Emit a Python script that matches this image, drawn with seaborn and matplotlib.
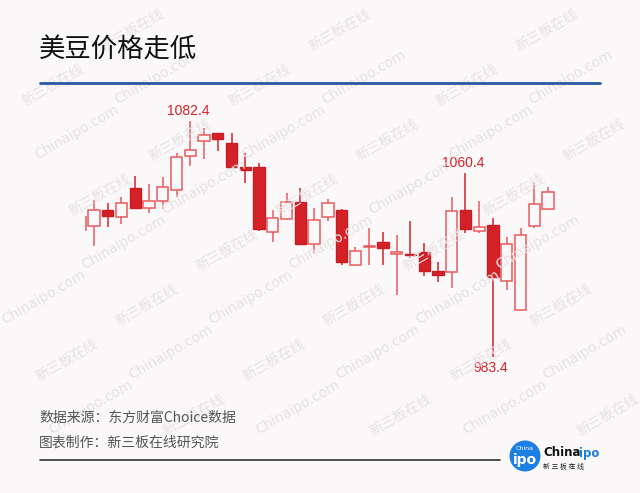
import matplotlib
matplotlib.use("Agg")
import matplotlib.pyplot as plt
from matplotlib.lines import Line2D
from matplotlib.patches import Ellipse
import seaborn as sns
import pandas as pd
import numpy as np

# Daily soybean futures quotes (open / high / low / close)
opens = [1036.6, 1038.4, 1044.9, 1042.1, 1054.0, 1045.9, 1048.8, 1053.3, 1067.6, 1074.0,
         1077.1, 1072.9, 1062.9, 1062.9, 1035.6, 1041.2, 1048.4, 1030.7, 1041.9, 1044.9,
         1021.9, 1029.3, 1031.6, 1026.4, 1026.6, 1027.2, 1019.4, 1019.1, 1044.9, 1036.1,
         1038.5, 1015.2, 1003.0, 1038.2, 1045.4]
highs = [1042.0, 1049.1, 1048.0, 1050.3, 1059.2, 1055.9, 1058.7, 1068.7, 1082.4, 1079.2,
         1077.1, 1077.1, 1069.0, 1064.8, 1044.9, 1051.9, 1054.0, 1045.9, 1049.4, 1045.2,
         1029.5, 1037.3, 1035.6, 1034.5, 1040.3, 1031.0, 1023.0, 1050.3, 1060.4, 1048.7,
         1041.5, 1033.7, 1037.3, 1056.4, 1054.5]
lows = [1036.6, 1030.0, 1037.9, 1039.1, 1045.9, 1043.6, 1045.5, 1050.3, 1063.4, 1066.2,
        1069.8, 1063.1, 1056.4, 1036.3, 1031.6, 1041.2, 1030.7, 1027.0, 1040.5, 1021.9,
        1021.9, 1021.9, 1021.9, 1009.3, 1024.7, 1017.3, 1014.9, 1012.1, 1035.2, 1035.4,
        983.4, 1011.4, 1003.0, 1037.3, 1045.4]
closes = [1042.0, 1044.9, 1042.6, 1048.0, 1045.9, 1048.8, 1054.7, 1067.3, 1070.1, 1076.4,
          1074.6, 1063.1, 1061.7, 1036.8, 1041.5, 1048.4, 1030.7, 1040.7, 1047.8, 1023.0,
          1027.7, 1029.8, 1028.9, 1027.5, 1026.1, 1019.5, 1017.7, 1044.5, 1036.8, 1037.7,
          1016.7, 1030.6, 1034.5, 1047.3, 1052.6]

title = "美豆价格走低"
source_line = "数据来源：东方财富Choice数据"
maker_line = "图表制作：新三板在线研究院"

BG = "#faf8f9"
RED_DARK = "#d42127"
RED_EDGE = "#c61e24"
RED_LIGHT = "#ea5a5e"

df = pd.DataFrame({"open": opens, "high": highs, "low": lows, "close": closes})
df["idx"] = np.arange(len(df))
df["up"] = df["close"] >= df["open"]
df["bottom"] = df[["open", "close"]].min(axis=1)
df["body"] = (df["close"] - df["open"]).abs().clip(lower=0.35)

sns.set_theme(style="white")
plt.rcParams["font.family"] = ["Noto Sans CJK SC", "DejaVu Sans"]

W, H = 640, 493
fig = plt.figure(figsize=(W / 100, H / 100), dpi=100)
fig.patch.set_facecolor(BG)


def fx(px):
    return px / W


def fy(py):
    return 1 - py / H


# background watermark
wm = dict(fontsize=10, color="#e7e3e5", rotation=30, ha="center", va="center",
          rotation_mode="anchor", zorder=0)
for m in range(-3, 6):
    for n in range(-6, 10):
        x = 53 + 207 * m + 80 * n
        y = 85 - 55 * n
        if 20 < x < 620 and 22 < y < 485:
            fig.text(fx(x), fy(y), "新三板在线", **wm)
        x2, y2 = x + 104, y - 8
        if 35 < x2 < 605 and 25 < y2 < 480:
            fig.text(fx(x2), fy(y2), "Chinaipo.com", family=["DejaVu Sans"], **wm)

# chart area
ax_l, ax_r, ax_t, ax_b = 85, 560, 100, 370
ax = fig.add_axes([fx(ax_l), fy(ax_b), (ax_r - ax_l) / W, (ax_b - ax_t) / H])
ax.set_facecolor("none")
step = 13.76
c0 = 80.2
ax.set_xlim((ax_l - c0) / step, (ax_r - c0) / step)
ax.set_ylim(977.8, 1091.1)
ax.set_axis_off()

up = df[df["up"]]
dn = df[~df["up"]]

ax.vlines(up["idx"], up["low"], up["high"], color=RED_LIGHT, lw=1.1, zorder=1)
ax.vlines(dn["idx"], dn["low"], dn["high"], color=RED_DARK, lw=1.1, zorder=1)
ax.bar(up["idx"], up["body"], bottom=up["bottom"], width=0.82,
       facecolor=BG, edgecolor=RED_LIGHT, linewidth=1.1, zorder=2)
ax.bar(dn["idx"], dn["body"], bottom=dn["bottom"], width=0.82,
       facecolor=RED_DARK, edgecolor=RED_EDGE, linewidth=1.0, zorder=2)

# extreme value labels
label_font = dict(color=RED_DARK, fontsize=10, family=["Liberation Sans", "DejaVu Sans"],
                  ha="center", va="center", zorder=5)
for i in (int(df["high"].idxmax()), 28):
    ax.annotate(f"{df.loc[i, 'high']:.1f}", xy=(i, df.loc[i, "high"]),
                xytext=(-1.5, 7.3), textcoords="offset points", **label_font)
i_low = int(df["low"].idxmin())
ax.annotate(f"{df.loc[i_low, 'low']:.1f}", xy=(i_low, df.loc[i_low, "low"]),
            xytext=(-1.5, -8.4), textcoords="offset points", **label_font)

# header
fig.text(fx(39), fy(50), title, fontsize=19, color="#111111", ha="left", va="center")
fig.add_artist(Line2D([fx(40), fx(600)], [fy(83), fy(83)], color="#2957a4", lw=2))

# footer
fig.text(fx(39), fy(417.5), source_line, fontsize=10, color="#555555", ha="left", va="center")
fig.text(fx(39), fy(442.5), maker_line, fontsize=10, color="#555555", ha="left", va="center")
fig.add_artist(Line2D([fx(40), fx(500)], [fy(459.5), fy(459.5)], color="#333333", lw=1.2))

# logo
fig.add_artist(Ellipse((fx(525), fy(456)), 31 / W, 31 / H, transform=fig.transFigure,
                       facecolor="#1d7fe3", edgecolor="none"))
fig.text(fx(525), fy(448), "China", fontsize=4.5, color="white", ha="center", va="center",
         family=["DejaVu Sans"])
fig.text(fx(525), fy(460), "ipo", fontsize=10, color="white", ha="center", va="center",
         weight="bold", family=["DejaVu Sans"])
fig.text(fx(543), fy(453), "China", fontsize=8.5, color="#111111", ha="left", va="center",
         weight="bold", family=["DejaVu Sans"])
fig.text(fx(579), fy(453), "ipo", fontsize=8.5, color="#1d7fe3", ha="left", va="center",
         weight="bold", family=["DejaVu Sans"])
fig.text(fx(543), fy(467), "新 三 板 在 线", fontsize=5, color="#222222", ha="left", va="center")

fig.savefig("out.png", dpi=100, facecolor=BG)
